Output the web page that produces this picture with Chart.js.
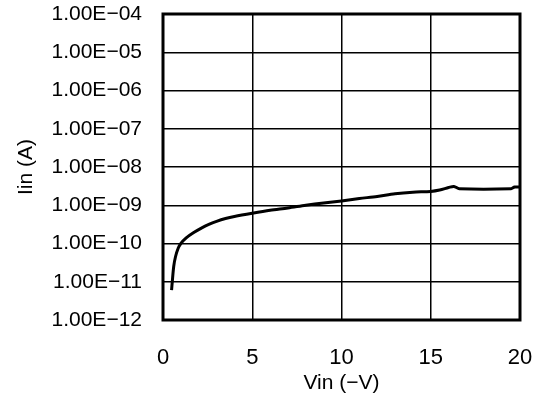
<!DOCTYPE html>
<html>
<head>
<meta charset="utf-8">
<script src="https://cdn.jsdelivr.net/npm/chart.js@4"></script>
<style>
  body { margin: 0; background: #fff; }
</style>
</head>
<body>
<canvas id="ivChart" width="545" height="412"></canvas>
<script>
// measured leakage current vs reverse input voltage
const vin = [0.48, 0.52, 0.6, 0.7, 0.85, 1.0, 1.3, 1.7, 2.2, 2.6, 3.0, 3.5, 4.0, 5.0, 6.0, 7.0, 8.0, 9.0, 10.0,
  11.0, 12.0, 13.0, 14.0, 15.0, 15.5, 16.0, 16.3, 16.6, 19.5, 19.7, 20.0];
const iin = [6.0e-12, 1.0e-11, 2.5e-11, 4.5e-11, 7.5e-11, 1.0e-10, 1.4e-10, 1.9e-10, 2.6e-10, 3.2e-10, 3.8e-10,
  4.5e-10, 5.1e-10, 6.2e-10, 7.4e-10, 8.5e-10, 1.0e-9, 1.15e-9, 1.3e-9, 1.5e-9, 1.7e-9, 2.0e-9, 2.2e-9, 2.3e-9,
  2.5e-9, 2.9e-9, 3.1e-9, 2.7e-9, 2.7e-9, 3.0e-9, 3.0e-9];
const xTicks = [0, 5, 10, 15, 20];
const yTicks = [1e-12, 1e-11, 1e-10, 1e-9, 1e-8, 1e-7, 1e-6, 1e-5, 1e-4];
const yTickLabels = ['1.00E\u221212', '1.00E\u221211', '1.00E\u221210', '1.00E\u221209', '1.00E\u221208',
  '1.00E\u221207', '1.00E\u221206', '1.00E\u221205', '1.00E\u221204'];

const FONT = 'Liberation Sans';

const frame = {
  id: 'frame',
  afterDraw(chart) {
    const { ctx, chartArea: a } = chart;
    ctx.save();
    ctx.strokeStyle = '#000';
    ctx.lineWidth = 3;
    ctx.strokeRect(a.left, a.top, a.right - a.left, a.bottom - a.top);
    ctx.restore();
  },
};

new Chart(document.getElementById('ivChart'), {
  type: 'line',
  data: {
    datasets: [{
      data: vin.map((v, i) => ({ x: v, y: iin[i] })),
      borderColor: '#000',
      borderWidth: 3,
      pointRadius: 0,
      tension: 0.3,
      fill: false,
    }],
  },
  options: {
    responsive: false,
    animation: false,
    layout: { padding: { top: 14, right: 25, left: 0, bottom: 0 } },
    plugins: { legend: { display: false }, tooltip: { enabled: false } },
    scales: {
      x: {
        type: 'linear',
        min: 0,
        max: 20,
        afterBuildTicks: (s) => { s.ticks = xTicks.map((v) => ({ value: v })); },
        afterFit: (s) => { s.height = 92; s.paddingLeft = 0; s.paddingRight = 0; },
        grid: { color: '#000', lineWidth: 1.5, drawTicks: false },
        border: { display: false },
        ticks: { color: '#000', padding: 25, maxRotation: 0, font: { family: FONT, size: 22 } },
        title: {
          display: true,
          text: 'Vin (\u2212V)',
          color: '#000',
          font: { family: FONT, size: 21 },
          padding: { top: 0, bottom: 16 },
        },
      },
      y: {
        type: 'logarithmic',
        min: 1e-12,
        max: 1e-4,
        afterBuildTicks: (s) => { s.ticks = yTicks.map((v) => ({ value: v })); },
        afterFit: (s) => { s.width = 163; s.paddingTop = 0; s.paddingBottom = 0; },
        grid: { color: '#000', lineWidth: 1.5, drawTicks: false },
        border: { display: false },
        ticks: {
          color: '#000',
          padding: 21,
          font: { family: FONT, size: 21 },
          callback: (v) => yTickLabels[yTicks.findIndex((t) => Math.abs(Math.log10(t) - Math.log10(v)) < 1e-6)],
        },
        title: {
          display: true,
          text: 'Iin (A)',
          color: '#000',
          font: { family: FONT, size: 21 },
          padding: { top: 14, bottom: 0 },
        },
      },
    },
  },
  plugins: [frame],
});
</script>
</body>
</html>
